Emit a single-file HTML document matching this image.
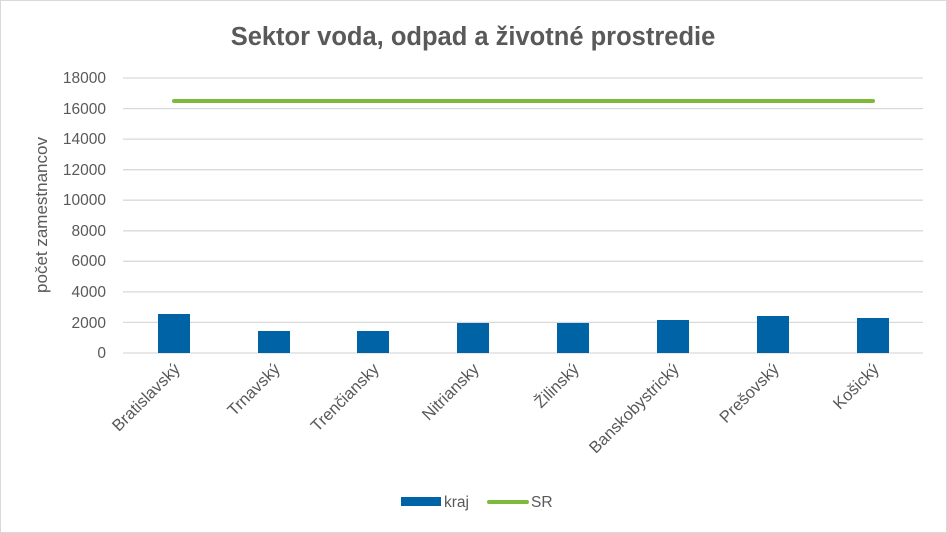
<!DOCTYPE html>
<html><head><meta charset="utf-8"><style>
body{margin:0;background:#fff}
svg{display:block;font-family:"Liberation Sans",sans-serif}
</style></head><body>
<svg width="947" height="533" viewBox="0 0 947 533">
<rect x="0.5" y="0.5" width="946" height="532" fill="#fff" stroke="#d9d9d9"/>
<text x="473" y="45" text-anchor="middle" font-size="25.5" font-weight="bold" fill="#595959">Sektor voda, odpad a životné prostredie</text>
<g stroke="#d9d9d9" stroke-width="1.3">
<line x1="123" x2="923" y1="353" y2="353"/>
<line x1="123" x2="923" y1="322.4" y2="322.4"/>
<line x1="123" x2="923" y1="291.9" y2="291.9"/>
<line x1="123" x2="923" y1="261.3" y2="261.3"/>
<line x1="123" x2="923" y1="230.8" y2="230.8"/>
<line x1="123" x2="923" y1="200.2" y2="200.2"/>
<line x1="123" x2="923" y1="169.7" y2="169.7"/>
<line x1="123" x2="923" y1="139.1" y2="139.1"/>
<line x1="123" x2="923" y1="108.6" y2="108.6"/>
<line x1="123" x2="923" y1="78" y2="78"/>
</g>
<g font-size="15.5" fill="#595959" text-anchor="end">
<text x="106" y="358">0</text>
<text x="106" y="328">2000</text>
<text x="106" y="297">4000</text>
<text x="106" y="266">6000</text>
<text x="106" y="236">8000</text>
<text x="106" y="205">10000</text>
<text x="106" y="175">12000</text>
<text x="106" y="144">14000</text>
<text x="106" y="114">16000</text>
<text x="106" y="83">18000</text>
</g>
<text transform="translate(47,215) rotate(-90)" text-anchor="middle" font-size="17" fill="#595959">počet zamestnancov</text>
<g fill="#0063a6">
<rect x="158" y="314" width="32" height="39"/>
<rect x="258" y="331" width="32" height="22"/>
<rect x="357" y="331" width="32" height="22"/>
<rect x="457" y="323" width="32" height="30"/>
<rect x="557" y="323" width="32" height="30"/>
<rect x="657" y="320" width="32" height="33"/>
<rect x="757" y="316" width="32" height="37"/>
<rect x="857" y="318" width="32" height="35"/>
</g>
<line x1="174" x2="873" y1="101" y2="101" stroke="#7dba3c" stroke-width="4" stroke-linecap="round"/>
<g font-size="16.5" fill="#595959" text-anchor="end">
<text transform="translate(181,370) rotate(-45)">Bratislavský</text>
<text transform="translate(281,370) rotate(-45)">Trnavský</text>
<text transform="translate(380,370) rotate(-45)">Trenčiansky</text>
<text transform="translate(480,370) rotate(-45)">Nitriansky</text>
<text transform="translate(580,370) rotate(-45)">Žilinský</text>
<text transform="translate(680,370) rotate(-45)">Banskobystrický</text>
<text transform="translate(780,370) rotate(-45)">Prešovský</text>
<text transform="translate(880,370) rotate(-45)">Košický</text>
</g>
<rect x="401" y="497" width="40" height="9" fill="#0063a6"/>
<text x="444" y="507" font-size="15.5" fill="#595959">kraj</text>
<line x1="489" x2="527" y1="502" y2="502" stroke="#7dba3c" stroke-width="4" stroke-linecap="round"/>
<text x="531" y="507" font-size="15.5" fill="#595959">SR</text>
</svg>
</body></html>
